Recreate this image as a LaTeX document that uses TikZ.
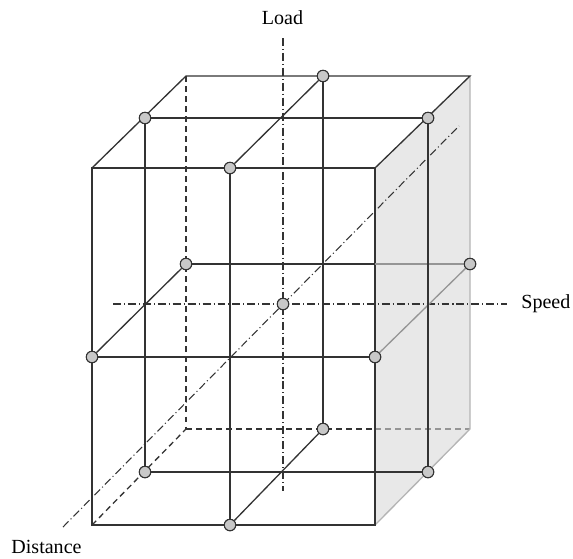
\documentclass[tikz,border=0pt]{standalone}
\usepackage{fontspec}
\setmainfont{Liberation Serif}
\usepackage{xcolor}
\usetikzlibrary{positioning,calc}

\definecolor{edgeink}{HTML}{333333}
\definecolor{faceshade}{HTML}{E8E8E8}
\definecolor{hiddenink}{HTML}{959595}
\definecolor{rimink}{HTML}{B4B4B4}
\definecolor{dotfill}{HTML}{C8C8C8}

\begin{document}
\begin{tikzpicture}[
    x=0.02cm, y=-0.02cm,
    every node/.style={font=\fontsize{11.4}{13.7}\selectfont},
    edge/.style={draw=edgeink, line width=0.75pt},
    hidden/.style={draw=#1, line width=0.75pt, dash pattern=on 3.4pt off 2.3pt},
    hidden/.default=edgeink,
    axis/.style={draw=edgeink, line width=0.6pt, dash pattern=on 4.5pt off 1.7pt on 0.6pt off 1.7pt},
    pt/.style={circle, draw=edgeink, fill=dotfill, line width=0.6pt, minimum size=6.5pt, inner sep=0pt},
    axislabel/.style={inner sep=0pt},
]
\useasboundingbox (0,0) rectangle (573,558);

% Cube corners
\coordinate (FTL) at (92,168);
\coordinate (FTR) at (375,168);
\coordinate (FBL) at (92,525);
\coordinate (FBR) at (375,525);
\coordinate (BTL) at (186,76);
\coordinate (BTR) at (470,76);
\coordinate (BBL) at (186,429);
\coordinate (BBR) at (470,429);

% Shaded side face
\fill[faceshade] (FTR) -- (BTR) -- (BBR) -- (FBR) -- cycle;

% Design points
\node[pt] (tL) at (145,118) {};
\node[pt] (tR) at (428,118) {};
\node[pt] (tB) at (323,76) {};
\node[pt] (tF) at (230,168) {};
\node[pt] (mBL) at (186,264) {};
\node[pt] (mBR) at (470,264) {};
\node[pt] (mFL) at (92,357) {};
\node[pt] (mFR) at (375,357) {};
\node[pt] (bL) at (145,472) {};
\node[pt] (bR) at (428,472) {};
\node[pt] (bB) at (323,429) {};
\node[pt] (bF) at (230,525) {};
\node[pt] (ctr) at (283,304) {};

\coordinate (mX) at (mBL -| FTR);
\coordinate (bX) at (BBL -| FTR);

% Hidden edges
\draw[hidden] (BTL) -- (BBL);
\draw[hidden] (BBL) -- (bX);
\draw[hidden=hiddenink] (bX) -- (BBR);
\draw[hidden] (FBL) -- (BBL);
\draw[draw=rimink, line width=0.75pt] (BTR) -- (BBR) -- (FBR);

% Factor axes
\coordinate (loadTop) at (283,38);
\coordinate (loadBot) at (283,491);
\coordinate (speedL) at (113,304);
\coordinate (speedR) at (507,304);
\coordinate (distL) at (63,527);
\coordinate (distR) at (459,126);
\draw[axis] (loadTop) -- (loadBot);
\draw[axis] (speedL) -- (speedR);
\draw[axis] (distL) -- (distR);

% Visible edges
\draw[edge] (FTL) rectangle (FBR);
\draw[edge] (FTL) -- (BTL) -- (BTR) -- (FTR);

% Inner frame
\draw[edge] (tL) -- (tR);
\draw[edge] (tB) -- (tF);
\draw[edge] (mBL) -- (mX);
\draw[draw=hiddenink, line width=0.75pt] (mX) -- (mBR);
\draw[edge] (mFL) -- (mFR);
\draw[edge] (mBL) -- (mFL);
\draw[draw=hiddenink, line width=0.75pt] (mFR) -- (mBR);
\draw[edge] (bL) -- (bR);
\draw[edge] (bB) -- (bF);
\draw[edge] (tL) -- (bL);
\draw[edge] (tR) -- (bR);
\draw[edge] (tF) -- (bF);
\draw[edge] (tB) -- (bB);

% Redraw points on top
\foreach \p in {tL,tR,tB,tF,mBL,mBR,mFL,mFR,bL,bR,bB,bF,ctr}
  \node[pt] at (\p) {};

% Axis labels
\node[axislabel, anchor=base] (lLoad) at (282.5,24.5) {Load};
\node[axislabel, anchor=base west] (lSpeed) at (521,308) {Speed};
\node[axislabel, anchor=base] (lDist) at (46.5,553) {Distance};

\end{tikzpicture}
\end{document}
